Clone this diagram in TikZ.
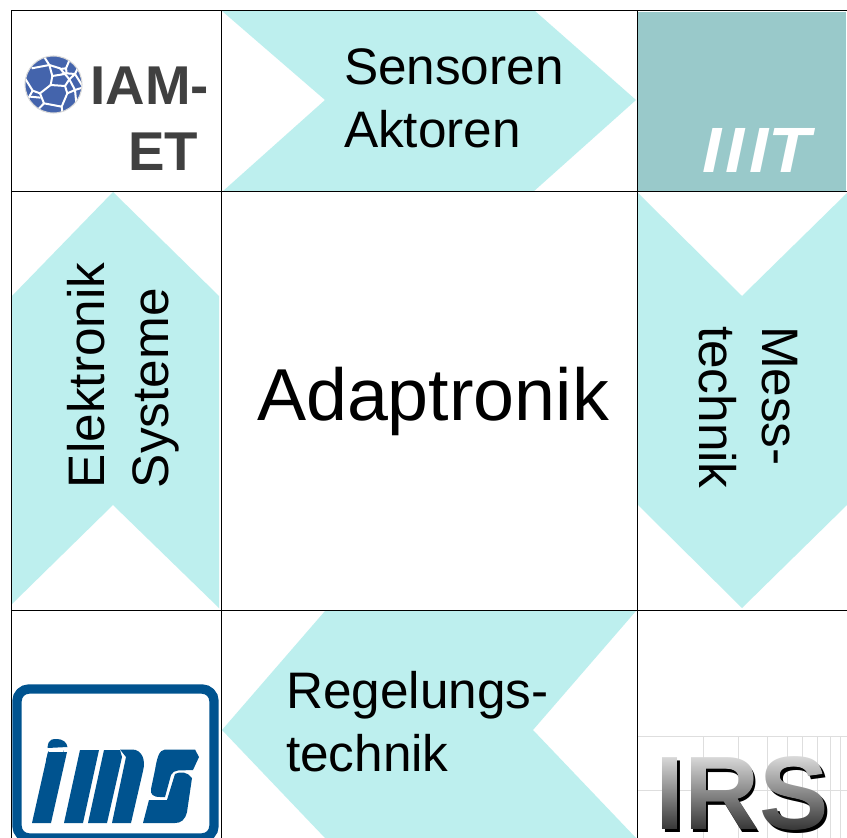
\documentclass[tikz,border=0pt]{standalone}
\usepackage{fontspec}
\usetikzlibrary{fadings}
\setmainfont{Liberation Sans}
\definecolor{chev}{HTML}{BDEFEE}
\definecolor{iiitbg}{HTML}{99C9CA}
\definecolor{imsblue}{HTML}{00538F}
\definecolor{iamgrey}{HTML}{404040}
\definecolor{iamblue}{HTML}{4464AC}
\definecolor{irsgrid}{HTML}{DEDEDE}
\pgfdeclareverticalshading{irsgrad}{100bp}{color(0bp)=(black!82); color(42.5bp)=(black!82); color(57.5bp)=(black!12); color(100bp)=(black!12)}
\tikzset{
  chevron/.style={fill=chev,draw=none},
  gridline/.style={draw=black,line width=0.75pt},
  lbl/.style={inner sep=0pt,outer sep=0pt,anchor=base west,font=\fontsize{38.5}{40}\selectfont,text=black},
  logotxt/.style={inner sep=0pt,outer sep=0pt,anchor=base west,font=\bfseries\fontsize{41}{43}\selectfont,text=iamgrey},
  cellwire/.style={draw=white,line width=1.5pt,line join=round},
  imsfill/.style={fill=imsblue,draw=none},
  irsline/.style={draw=irsgrid,line width=0.7pt}
}
\begin{tikzfadingfrompicture}[name=irsfade]
  \node[text=transparent!0,inner sep=0pt,font=\bfseries\fontsize{19.5}{19.5}\selectfont] (irsf) {IRS};
\end{tikzfadingfrompicture}
\begin{document}
\begin{tikzpicture}[x=0.75pt,y=-0.75pt]
\useasboundingbox (0,0) rectangle (847,838);
\clip (0,0) rectangle (847,838);
\fill[white] (0,0) rectangle (847,838);

% chevrons
\path[chevron] (222,11) -- (535,11) -- (636,100) -- (533,192) -- (222,192) -- (325,100) -- cycle;
\path[chevron] (113,192) -- (219,296) -- (219,608) -- (113,505) -- (12,604) -- (12,296) -- cycle;
\path[chevron] (638,193) -- (742,296) -- (847,193) -- (847,505) -- (742,608) -- (638,505) -- cycle;
\path[chevron] (222,730) -- (325,611) -- (636,611) -- (533,730) -- (636,838) -- (325,838) -- cycle;

% IIIT logo
\fill[iiitbg] (638,12) rectangle (846,191);
\node[inner sep=0pt,outer sep=0pt,anchor=base west,text=white,font=\bfseries\itshape\fontsize{48}{50}\selectfont] (iiit) at (702,173) {\addfontfeatures{FakeStretch=1.08,LetterSpace=7}III\addfontfeatures{FakeStretch=1.08,LetterSpace=0}T};

% IAM-ET logo
\begin{scope}
  \clip (53.5,84.5) circle (28.5);
  \fill[iamblue] (53.5,84.5) circle (28.5);
  \begin{scope}[shift={(20,50)},x=0.25pt,y=-0.25pt]
    \draw[cellwire] (72,20) -- (88,45) -- (97,78) -- (135,72) -- (120,55) -- (88,45);
    \draw[cellwire] (120,57) -- (138,55) -- (140,70) -- (125,71);
    \draw[cellwire] (138,55) -- (152,22);
    \draw[cellwire] (140,70) -- (165,72) -- (178,45);
    \draw[cellwire] (165,72) -- (148,88) -- (135,108) -- (92,105) -- (97,78);
    \draw[cellwire] (135,72) -- (148,88) -- (165,120) -- (142,130) -- (135,108);
    \draw[cellwire] (165,72) -- (190,112) -- (165,120) -- (170,170);
    \draw[cellwire] (142,130) -- (125,170) -- (72,160) -- (60,130) -- (92,105);
    \draw[cellwire] (125,170) -- (128,195);
    \draw[cellwire] (72,160) -- (48,185);
    \draw[cellwire] (60,130) -- (38,122) -- (12,80);
    \draw[cellwire] (38,122) -- (25,145);
    \draw[cellwire] (30,140) -- (62,143);
    \draw[cellwire] (88,45) -- (35,55);
  \end{scope}
\end{scope}
\draw[black!15,line width=0.8pt] (53.5,84.5) circle (28.5);
\node[logotxt] (iam) at (90.5,105) {IAM-};
\node[logotxt] (et) at (128,171) {ET};

% ims logo
\draw[imsblue,line width=7pt,rounded corners=9pt,fill=white] (17,689) rectangle (214,838);
\path[imsfill] (32,823) -- (51,823) -- (67,752) -- (48,752) -- cycle;
\path[imsfill] (47.5,748) .. controls (48,738) and (54,739) .. (57,739) .. controls (62,739) and (67,742) .. (67.5,747) -- cycle;
\path[imsfill] (48.5,751) .. controls (49,757) and (54,758.5) .. (56,758) .. controls (60,757.5) and (63,755) .. (64,750) -- (62,760) -- (46,760) -- cycle;
\path[imsfill] (64,823) -- (83,823) -- (99,750) -- (80,750) -- cycle;
\path[imsfill] (88,823) -- (107,823) -- (122,757) -- (120,750) -- (104,750) -- cycle;
\path[imsfill] (112,823) -- (131,823) -- (143,771) .. controls (146,760) and (142,749.5) .. (132,749.5) -- (120,749.5) -- (126,757) -- cycle;
\path[imsfill] (165,749.5) -- (195,749.5) -- (199,757) -- (193,770) -- (178,770.5) .. controls (175,771) and (172,772) .. (171,775) -- (165,797) -- (160,797) .. controls (153,797) and (150,794) .. (151,789) -- (155,770) .. controls (157,758) and (159,750) .. (165,749.5) -- cycle;
\path[imsfill] (143,823) -- (149,800) -- (167,800) -- (175,774) .. controls (180,771) and (188,772) .. (192,778) -- (187,812) .. controls (185,820) and (181,823) .. (175,823) -- cycle;

% IRS logo
\foreach \gx in {703,738,767,787,802,817,830,840}
  \draw[irsline] (\gx,736) -- (\gx,838);
\draw[irsline] (638,736) -- (847,736);
\draw[irsline] (638,790) -- (847,790);
\node[inner sep=0pt,outer sep=0pt,anchor=base west,text=black,font=\bfseries\fontsize{78}{78}\selectfont] (irs) at (658,832) {IRS};
\shade[path fading=irsfade,shading=irsgrad] (608.35,659.25) rectangle (876.05,926.95);

% grid
\draw[gridline] (11,11) -- (847,11);
\draw[gridline] (11,192) -- (847,192);
\draw[gridline] (11,610) -- (847,610);
\draw[gridline] (11,11) -- (11,838);
\draw[gridline] (221,11) -- (221,838);
\draw[gridline] (637,11) -- (637,838);

% labels
\node[lbl] (sens) at (344,85) {Sensoren};
\node[lbl] (akt) at (344,148) {Aktoren};
\node[lbl,rotate=90] (elek) at (104,488) {Elektronik};
\node[lbl,rotate=90] (sys) at (168,488) {Systeme};
\node[lbl,rotate=-90] (mess) at (762,326) {Mess-};
\node[lbl,rotate=-90] (tech) at (699,326) {technik};
\node[lbl] (reg) at (286,708) {Regelungs-};
\node[lbl] (rtech) at (286,771) {technik};
\node[lbl,font=\fontsize{55.2}{57}\selectfont] (adap) at (257,420) {Adaptronik};
\end{tikzpicture}
\end{document}
